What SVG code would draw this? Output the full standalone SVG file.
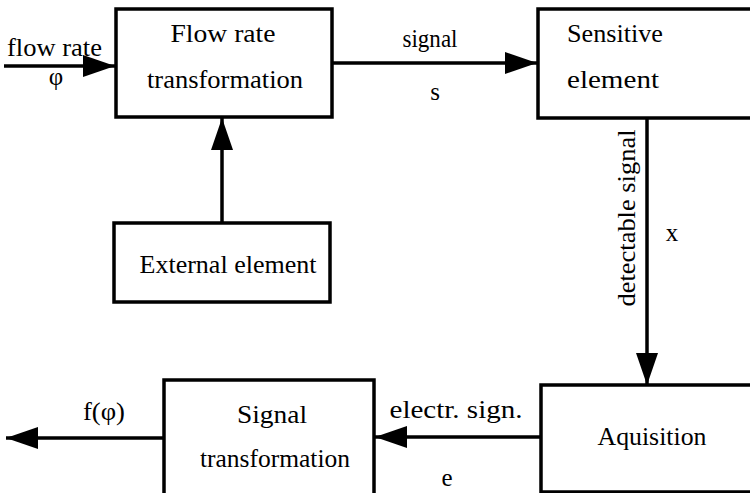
<svg xmlns="http://www.w3.org/2000/svg" width="750" height="493" viewBox="0 0 750 493">
<style>
.box{fill:#fff;stroke:#000;stroke-width:3.5}
.ln{stroke:#000;stroke-width:3.5;fill:none}
text{font-size:25px;fill:#000}
.c{text-anchor:middle}
</style>
<defs>
<marker id="ah" markerUnits="userSpaceOnUse" markerWidth="34" markerHeight="24" refX="32" refY="11" orient="auto">
<polygon points="0,0 32,11 0,22" fill="#000"/>
</marker>
</defs>
<rect width="750" height="493" fill="#fff"/>
<g font-family="Liberation Serif, Times New Roman, serif">
<g id="connectors">
<line class="ln" x1="4" y1="66" x2="115" y2="66" marker-end="url(#ah)"/>
<line class="ln" x1="332" y1="63" x2="537" y2="63" marker-end="url(#ah)"/>
<line class="ln" x1="222" y1="223" x2="222" y2="118" marker-end="url(#ah)"/>
<line class="ln" x1="647" y1="118" x2="647" y2="385" marker-end="url(#ah)"/>
<line class="ln" x1="540" y1="437" x2="375" y2="437" marker-end="url(#ah)"/>
<line class="ln" x1="163" y1="438" x2="6" y2="438" marker-end="url(#ah)"/>
<text x="7" y="56" textLength="95" lengthAdjust="spacingAndGlyphs">flow rate</text>
<text class="c" x="56" y="85">φ</text>
<text class="c" x="430" y="47" textLength="55" lengthAdjust="spacingAndGlyphs">signal</text>
<text class="c" x="435" y="100">s</text>
<text class="c" transform="translate(635,218) rotate(-90)" textLength="177" lengthAdjust="spacingAndGlyphs">detectable signal</text>
<text class="c" x="672" y="241">x</text>
<text class="c" x="456" y="418" textLength="133" lengthAdjust="spacingAndGlyphs">electr. sign.</text>
<text class="c" x="447" y="486">e</text>
<text class="c" x="104" y="420" textLength="42" lengthAdjust="spacingAndGlyphs">f(φ)</text>
</g>
<g id="flow-rate-transformation">
<rect class="box" x="116" y="9" width="216" height="108"/>
<text class="c" x="223" y="42" textLength="105" lengthAdjust="spacingAndGlyphs">Flow rate</text>
<text class="c" x="225" y="88" textLength="156" lengthAdjust="spacingAndGlyphs">transformation</text>
</g>
<g id="sensitive-element">
<rect class="box" x="538" y="9" width="230" height="109"/>
<text class="c" x="615" y="42" textLength="96" lengthAdjust="spacingAndGlyphs">Sensitive</text>
<text class="c" x="613" y="88" textLength="92" lengthAdjust="spacingAndGlyphs">element</text>
</g>
<g id="external-element">
<rect class="box" x="114" y="223" width="216" height="79"/>
<text class="c" x="228" y="273" textLength="177" lengthAdjust="spacingAndGlyphs">External element</text>
</g>
<g id="aquisition">
<rect class="box" x="541" y="385" width="230" height="107"/>
<text class="c" x="652" y="445" textLength="109" lengthAdjust="spacingAndGlyphs">Aquisition</text>
</g>
<g id="signal-transformation">
<rect class="box" x="164" y="380" width="210" height="125"/>
<text class="c" x="272" y="423" textLength="70" lengthAdjust="spacingAndGlyphs">Signal</text>
<text class="c" x="275" y="467" textLength="150" lengthAdjust="spacingAndGlyphs">transformation</text>
</g>
</g>
</svg>
